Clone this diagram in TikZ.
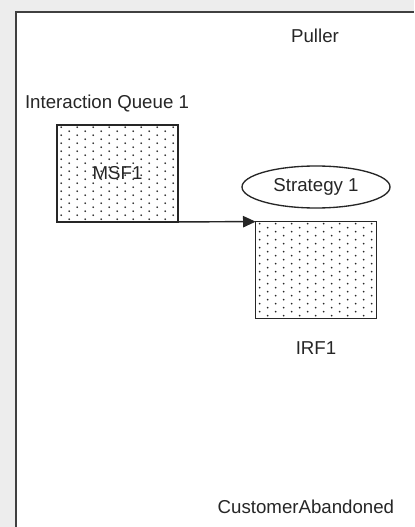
\documentclass[tikz,border=0pt]{standalone}
\usepackage{fontspec}
\setmainfont{Liberation Sans}
\usetikzlibrary{arrows.meta,shapes.geometric,backgrounds}

\tikzset{
  sfbox/.style={draw=black!85, line width=1.2pt, outer sep=0pt, minimum width=90.5pt, minimum height=72.5pt, inner sep=0pt},
  lbl/.style={font=\fontsize{14}{16}\selectfont, text=black!85},
  strat/.style={ellipse, draw=black!85, line width=1pt, minimum width=111pt, minimum height=31.5pt, inner sep=0pt},
  dotcol/.style={fill=black!85}
}

% dotted fill of a box
\newcommand{\stipple}[1]{%
  \begin{scope}
    \clip (#1.north west) rectangle (#1.south east);
    \foreach \dx in {0,16,...,128}
      \foreach \dy in {0,8,...,104}
        {\fill[dotcol] ([shift={(\dx+4,\dy+2)}]#1.north west) circle (0.7pt);
         \fill[dotcol] ([shift={(\dx+12,\dy+6)}]#1.north west) circle (0.7pt);}
  \end{scope}}

\begin{document}
\begin{tikzpicture}[x=0.75pt,y=-0.75pt]
    \useasboundingbox (0,0) rectangle (414,527);

    %labels
    \node[lbl] (puller) at (315,36) {Puller};
    \node[lbl] (queue) at (107,104) {Interaction Queue 1};
    \node[lbl] (irflbl) at (316,348) {IRF1};
    \node[lbl, anchor=west] (abandon) at (213,507) {CustomerAbandoned};

    %boxes
    \node[sfbox, lbl] (msf) at (117.5,173.5) {MSF1};
    \node[sfbox] (irf) at (316,270) {};
    \node[strat, lbl] (strategy) at (316,187) {Strategy 1};

    %window and dots behind
    \begin{scope}[on background layer]
      \fill[black!7] (0,0) rectangle (414,527);
      \fill[white] (16,12) rectangle (414,527);
      \stipple{msf}
      \stipple{irf}
    \end{scope}
    \draw[black!75, line width=1.5pt] (16,527) -- (16,12) -- (414,12);

    %connector
    \draw[black!85, line width=1.1pt, -{Triangle[length=9.5pt,width=8.5pt]}] (msf.south east) -- (irf.north west);
\end{tikzpicture}
\end{document}
